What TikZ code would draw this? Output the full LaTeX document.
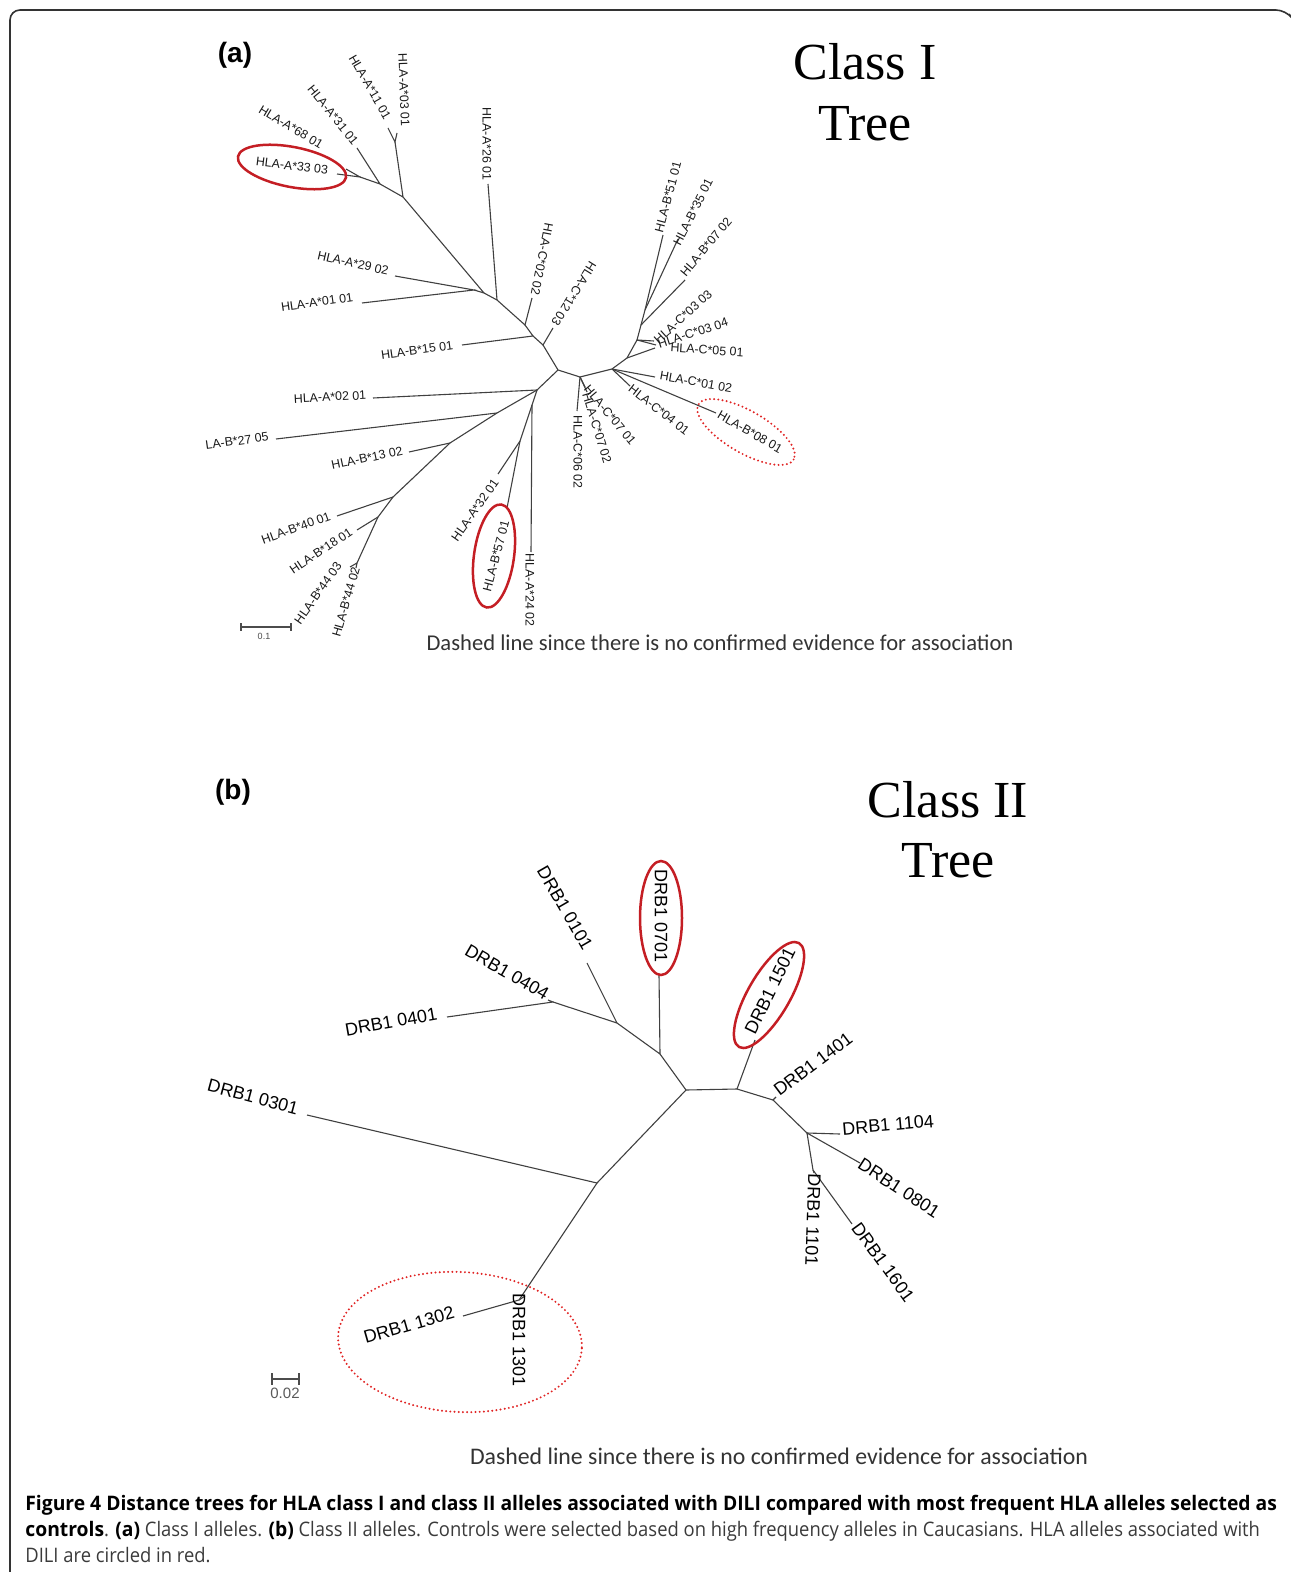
\documentclass[tikz,border=0pt]{standalone}
\usepackage{fontspec}
\setmainfont{Liberation Sans}
\newfontfamily\titlefont{Liberation Serif}
\newfontfamily\notefont{Carlito}
\newfontfamily\capfont[FakeStretch=0.92]{Open Sans}
\newfontfamily\capbold[FakeStretch=0.965]{Open Sans}
\definecolor{assocred}{HTML}{C41E24}
\definecolor{maybered}{HTML}{E02424}
\definecolor{captext}{HTML}{3A3A3A}

\tikzset{
  branch/.style={line width=0.55pt, black!75},
  allele/.style={inner sep=0pt, black!90, font=\fontsize{6.2}{7}\selectfont},
  drb/.style={inner sep=0pt, font=\fontsize{9}{10}\selectfont},
  treetitle/.style={inner sep=0pt, font=\titlefont\fontsize{26}{28}\selectfont},
  panel/.style={inner sep=0pt, font=\bfseries\fontsize{14}{16}\selectfont},
  note/.style={inner sep=0pt, black!80, font=\notefont\fontsize{11.3}{13}\selectfont},
  assoc/.style={draw=assocred, line width=1.25pt},
  maybe/.style={draw=maybered, line width=1.1pt, line cap=round, dash pattern=on 0pt off 2.1pt},
  scalebar/.style={line width=0.6pt, black!70},
  caption/.style={inner sep=0pt, anchor=base west, captext, font=\capfont\fontsize{10}{11}\selectfont}
}
\newcommand{\capb}[1]{{\capbold\bfseries\color{black}#1}}

\begin{document}
\begin{tikzpicture}[x=0.5pt,y=-0.5pt]
\useasboundingbox (0,0) rectangle (1290,1572);

% frame
\draw[line width=0.8pt, black!80, rounded corners=5pt] (10,1572) -- (10,10) -- (1286,10) -- (1289,14);

% ---------- (a) class I ----------
\node[panel] (pa) at (235,55) {(a)};
\node[treetitle] (t1a) at (865,62) {Class I};
\node[treetitle] (t1b) at (865,124) {Tree};

% inner points
\coordinate (a1)  at (360,177);
\coordinate (a2)  at (380,184);
\coordinate (a3)  at (395,142);
\coordinate (a4)  at (403,197);
\coordinate (a5)  at (474,290);
\coordinate (a6)  at (484,293);
\coordinate (a7)  at (497,300);
\coordinate (a8)  at (525,325);
\coordinate (a9)  at (533,336);
\coordinate (a10) at (543,345);
\coordinate (c0)  at (558,370);
\coordinate (c1)  at (580,377);
\coordinate (c2)  at (612,369);
\coordinate (c4)  at (627,358);
\coordinate (c5)  at (637,340);
\coordinate (c6)  at (641,325);
\coordinate (c7)  at (645,310);
\coordinate (d1)  at (537,390);
\coordinate (d2)  at (532,405);
\coordinate (d3)  at (520,441);
\coordinate (d4)  at (497,413);
\coordinate (d5)  at (450,443);
\coordinate (d6)  at (393,497);
\coordinate (d7)  at (378,517);
\coordinate (d8)  at (357,563);

% leaves
\coordinate (A33)  at (337,174);
\coordinate (A68)  at (346,169);
\coordinate (A31)  at (357,148);
\coordinate (A11)  at (388,128);
\coordinate (A03)  at (397,133);
\coordinate (A26)  at (488,184);
\coordinate (C02)  at (532,298);
\coordinate (C12)  at (553,328);
\coordinate (B15)  at (462,345);
\coordinate (A29)  at (395,276);
\coordinate (A01)  at (362,303);
\coordinate (A02)  at (373,398);
\coordinate (B27)  at (276,439);
\coordinate (B13)  at (409,452);
\coordinate (B40)  at (337,516);
\coordinate (B18)  at (357,530);
\coordinate (B443) at (350,567);
\coordinate (B442) at (356,568);
\coordinate (A32)  at (498,474);
\coordinate (B57)  at (507,508);
\coordinate (A24)  at (531,552);
\coordinate (C06)  at (577,411);
\coordinate (C072) at (587,392);
\coordinate (C071) at (585,387);
\coordinate (C04)  at (630,386);
\coordinate (B08)  at (716,413);
\coordinate (C01)  at (655,377);
\coordinate (C05)  at (655,348);
\coordinate (C034) at (656,345);
\coordinate (C033) at (654,341);
\coordinate (B07)  at (685,280);
\coordinate (B35)  at (678,239);
\coordinate (B51)  at (663,235);

% branches
\draw[branch] (A33) -- (a1) -- (A68);
\draw[branch] (a1) -- (a2) -- (A31);
\draw[branch] (A11) -- (a3) -- (A03);
\draw[branch] (a2) -- (a4) -- (a3);
\draw[branch] (A29) -- (a5) -- (A01);
\draw[branch] (a4) -- (a6) -- (a5);
\draw[branch] (a6) -- (a7) -- (A26);
\draw[branch] (a7) -- (a8) -- (C02);
\draw[branch] (a8) -- (a9) -- (B15);
\draw[branch] (a9) -- (a10) -- (C12);
\draw[branch] (a10) -- (c0) -- (c1) -- (c2);
\draw[branch] (c1) -- (C06);
\draw[branch] (c1) -- (C071);
\draw[branch] (c1) -- (C072);
\draw[branch] (c2) -- (C04);
\draw[branch] (c2) -- (B08);
\draw[branch] (c2) -- (C01);
\draw[branch] (c2) -- (c4) -- (C05);
\draw[branch] (c4) -- (c5) -- (C033);
\draw[branch] (c5) -- (C034);
\draw[branch] (c5) -- (c6) -- (B07);
\draw[branch] (c6) -- (c7) -- (B51);
\draw[branch] (c7) -- (B35);
\draw[branch] (c0) -- (d1) -- (A02);
\draw[branch] (d1) -- (d2) -- (A24);
\draw[branch] (d2) -- (d3) -- (A32);
\draw[branch] (d3) -- (B57);
\draw[branch] (d1) -- (d4) -- (B27);
\draw[branch] (d4) -- (d5) -- (B13);
\draw[branch] (d5) -- (d6) -- (B40);
\draw[branch] (d6) -- (d7) -- (B18);
\draw[branch] (d7) -- (d8) -- (B443);
\draw[branch] (d8) -- (B442);

% labels
\node[allele, rotate=-7]   (lA33)  at (292,166) {HLA-A*33 03};
\node[allele, rotate=-31]  (lA68)  at (291,127) {HLA-A*68 01};
\node[allele, rotate=-51]  (lA31)  at (333,115) {HLA-A*31 01};
\node[allele, rotate=-60]  (lA11)  at (370,87)  {HLA-A*11 01};
\node[allele, rotate=-88]  (lA03)  at (404,90)  {HLA-A*03 01};
\node[allele, rotate=-90]  (lA26)  at (487,144) {HLA-A*26 01};
\node[allele, rotate=-101] (lC02)  at (542,259) {HLA-C*02 02};
\node[allele, rotate=-122] (lC12)  at (574,294) {HLA-C*12 03};
\node[allele, rotate=8]    (lB15)  at (417,350) {HLA-B*15 01};
\node[allele, rotate=-13]  (lA29)  at (353,263) {HLA-A*29 02};
\node[allele, rotate=8]    (lA01)  at (317,302) {HLA-A*01 01};
\node[allele, rotate=3]    (lA02)  at (330,397) {HLA-A*02 01};
\node[allele, rotate=8]    (lB27)  at (237,441) {LA-B*27 05};
\node[allele, rotate=12]   (lB13)  at (367,458) {HLA-B*13 02};
\node[allele, rotate=20]   (lB40)  at (296,528) {HLA-B*40 01};
\node[allele, rotate=34]   (lB18)  at (321,551) {HLA-B*18 01};
\node[allele, rotate=55]   (lB443) at (318,593) {HLA-B*44 03};
\node[allele, rotate=74]   (lB442) at (346,602) {HLA-B*44 02};
\node[allele, rotate=55]   (lA32)  at (475,510) {HLA-A*32 01};
\node[allele, rotate=75]   (lB57)  at (496,556) {HLA-B*57 01};
\node[allele, rotate=-90]  (lA24)  at (530,590) {HLA-A*24 02};
\node[allele, rotate=-90]  (lC06)  at (578,452) {HLA-C*06 02};
\node[allele, rotate=-73]  (lC072) at (597,428) {HLA-C*07 02};
\node[allele, rotate=-50]  (lC071) at (610,415) {HLA-C*07 01};
\node[allele, rotate=-38]  (lC04)  at (659,410) {HLA-C*04 01};
\node[allele, rotate=-30]  (lB08)  at (750,432) {HLA-B*08 01};
\node[allele, rotate=-10]  (lC01)  at (696,382) {HLA-C*01 02};
\node[allele, rotate=-4]   (lC05)  at (707,350) {HLA-C*05 01};
\node[allele, rotate=18]   (lC034) at (693,333) {HLA-C*03 04};
\node[allele, rotate=42]   (lC033) at (683,317) {HLA-C*03 03};
\node[allele, rotate=50]   (lB07)  at (706,247) {HLA-B*07 02};
\node[allele, rotate=63]   (lB35)  at (693,212) {HLA-B*35 01};
\node[allele, rotate=75]   (lB51)  at (668,197) {HLA-B*51 01};

% circled alleles
\draw[assoc, rotate around={-11:(292,167)}] (292,167) ellipse [x radius=55, y radius=20];
\draw[assoc, rotate around={82:(494,556)}]  (494,556) ellipse [x radius=52, y radius=20];
\draw[maybe, rotate around={-30:(746,432)}] (746,432) ellipse [x radius=55, y radius=21];

% scale bar
\draw[scalebar] (241,623) -- (241,631) (241,627) -- (291,627) (291,623) -- (291,631);
\node[inner sep=0pt, black!70, font=\fontsize{4.5}{5}\selectfont] (s1) at (264,636) {0.1};

\node[note] (n1) at (720,643) {Dashed line since there is no confirmed evidence for association};

% ---------- (b) class II ----------
\node[panel] (pb) at (233,792) {(b)};
\node[treetitle] (t2a) at (948,800) {Class II};
\node[treetitle] (t2b) at (948,861) {Tree};

\coordinate (q1) at (553,1002);
\coordinate (q2) at (617,1023);
\coordinate (q3) at (660,1054);
\coordinate (k1) at (686,1090);
\coordinate (k2) at (737,1089);
\coordinate (k3) at (773,1100);
\coordinate (k4) at (807,1133);
\coordinate (k5) at (813,1170);
\coordinate (r1) at (597,1183);
\coordinate (r2) at (519,1300);

\coordinate (D0401) at (447,1017);
\coordinate (D0404) at (548,1000);
\coordinate (D0101) at (587,963);
\coordinate (D0701) at (659,975);
\coordinate (D1501) at (755,1040);
\coordinate (D1401) at (776,1097);
\coordinate (D1104) at (840,1134);
\coordinate (D0801) at (860,1163);
\coordinate (D1101) at (814,1173);
\coordinate (D1601) at (852,1224);
\coordinate (D0301) at (307,1115);
\coordinate (D1302) at (463,1316);
\coordinate (D1301) at (525,1296);

\draw[branch] (D0401) -- (q1) -- (D0404);
\draw[branch] (q1) -- (q2) -- (D0101);
\draw[branch] (q2) -- (q3) -- (D0701);
\draw[branch] (q3) -- (k1) -- (k2) -- (D1501);
\draw[branch] (k2) -- (k3) -- (D1401);
\draw[branch] (k3) -- (k4) -- (D1104);
\draw[branch] (k4) -- (D0801);
\draw[branch] (k4) -- (k5) -- (D1101);
\draw[branch] (k5) -- (D1601);
\draw[branch] (k1) -- (r1) -- (D0301);
\draw[branch] (r1) -- (r2) -- (D1302);
\draw[branch] (r2) -- (D1301);

\node[drb, rotate=10]  (l0401) at (391,1022) {DRB1 0401};
\node[drb, rotate=-30] (l0404) at (507,972)  {DRB1 0404};
\node[drb, rotate=-60] (l0101) at (565,908)  {DRB1 0101};
\node[drb, rotate=-90] (l0701) at (661,916)  {DRB1 0701};
\node[drb, rotate=64]  (l1501) at (770,991)  {DRB1 1501};
\node[drb, rotate=37]  (l1401) at (813,1064) {DRB1 1401};
\node[drb, rotate=5]   (l1104) at (888,1125) {DRB1 1104};
\node[drb, rotate=-33] (l0801) at (899,1188) {DRB1 0801};
\node[drb, rotate=-92] (l1101) at (813,1220) {DRB1 1101};
\node[drb, rotate=-54] (l1601) at (883,1262) {DRB1 1601};
\node[drb, rotate=-15] (l0301) at (253,1097) {DRB1 0301};
\node[drb, rotate=16]  (l1302) at (409,1325) {DRB1 1302};
\node[drb, rotate=-90] (l1301) at (519,1340) {DRB1 1301};

\draw[assoc] (661,918) ellipse [x radius=21, y radius=57];
\draw[assoc, rotate around={60:(769,995)}] (769,995) ellipse [x radius=60, y radius=21];
\draw[maybe, rotate around={-3:(460,1342)}] (460,1342) ellipse [x radius=122, y radius=70];

% scale bar
\draw[scalebar] (272,1373) -- (272,1385) (272,1379) -- (299,1379) (299,1373) -- (299,1385);
\node[inner sep=0pt, black!65, font=\fontsize{7.5}{8}\selectfont] (s2) at (285,1393) {0.02};

\node[note, font=\notefont\fontsize{11.9}{13}\selectfont] (n2) at (779,1456) {Dashed line since there is no confirmed evidence for association};

% ---------- caption ----------
\node[caption] (cap1) at (25,1510) {\capb{Figure 4 Distance trees for HLA class I and class II alleles associated with DILI compared with most frequent HLA alleles selected as}};
\node[caption] (cap2) at (25,1536) {\capb{controls}. \capb{(a)} Class I alleles. \capb{(b)} Class II alleles. Controls were selected based on high frequency alleles in Caucasians. HLA alleles associated with};
\node[caption] (cap3) at (25,1562) {DILI are circled in red.};
\end{tikzpicture}
\end{document}
